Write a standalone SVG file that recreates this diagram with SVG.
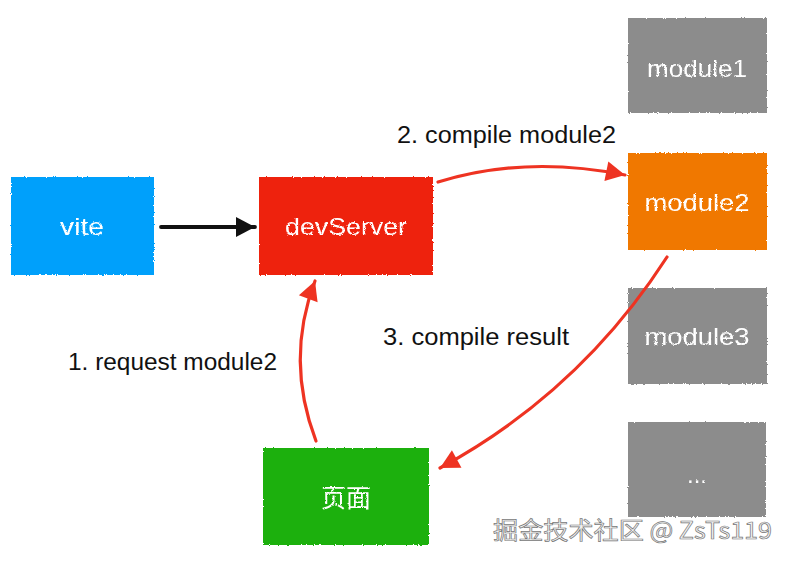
<svg xmlns="http://www.w3.org/2000/svg" width="791" height="563" viewBox="0 0 791 563">
<defs>
<style>
.nt{font-family:"Liberation Sans","Noto Sans CJK SC",sans-serif;font-size:24px;fill:#ffffff;text-anchor:middle}
.lbl{font-family:"Liberation Sans",sans-serif;font-size:23.5px;fill:#111111}
.red{fill:none;stroke:#ee3322;stroke-width:3.2;stroke-linecap:round}
.blk{fill:none;stroke:#111111;stroke-width:3.8;stroke-linecap:round}
</style>
<filter id="rough" x="-5%" y="-5%" width="110%" height="110%">
<feTurbulence type="fractalNoise" baseFrequency="0.9" numOctaves="2" seed="3" result="n"/>
<feDisplacementMap in="SourceGraphic" in2="n" scale="2.5" xChannelSelector="R" yChannelSelector="G"/>
</filter>
<marker id="ahR" markerUnits="userSpaceOnUse" markerWidth="24" markerHeight="24" viewBox="0 0 24 24" refX="21" refY="12" orient="auto">
<path d="M2,2 L21,12 L2,22 Z" fill="#ee3322"/>
</marker>
<marker id="ahB" markerUnits="userSpaceOnUse" markerWidth="24" markerHeight="24" viewBox="0 0 24 24" refX="21" refY="12" orient="auto">
<path d="M2,2 L21,12 L2,22 Z" fill="#111111"/>
</marker>
</defs>
<rect width="791" height="563" fill="#ffffff"/>

<g id="vite" filter="url(#rough)">
<rect x="11" y="177" width="143" height="98" fill="#04a0fb"/>
<text class="nt" x="82" y="235" textLength="44" lengthAdjust="spacingAndGlyphs">vite</text>
</g>
<g id="devServer" filter="url(#rough)">
<rect x="259" y="177" width="174" height="98" fill="#ee2210"/>
<text class="nt" x="346" y="235" textLength="122" lengthAdjust="spacingAndGlyphs">devServer</text>
</g>
<g id="module1" filter="url(#rough)">
<rect x="628" y="18" width="139" height="95" fill="#8c8c8c"/>
<text class="nt" x="697" y="77" textLength="100" lengthAdjust="spacingAndGlyphs">module1</text>
</g>
<g id="module2" filter="url(#rough)">
<rect x="628" y="153" width="139" height="97" fill="#f07800"/>
<text class="nt" x="697" y="211" textLength="105" lengthAdjust="spacingAndGlyphs">module2</text>
</g>
<g id="module3" filter="url(#rough)">
<rect x="628" y="288" width="139" height="96" fill="#8c8c8c"/>
<text class="nt" x="697" y="345" textLength="105" lengthAdjust="spacingAndGlyphs">module3</text>
</g>
<g id="moduleN" filter="url(#rough)">
<rect x="628" y="422" width="138" height="95" fill="#8c8c8c"/>
<text class="nt" x="697" y="483">...</text>
</g>
<g id="page" filter="url(#rough)">
<rect x="263" y="448" width="166" height="97" fill="#1db00b"/>
<text class="nt" x="346" y="507" style="font-size:25px">页面</text>
</g>

<g id="connectors">
<path class="blk" d="M161,227 L255,227" marker-end="url(#ahB)"/>
<path class="red" d="M438,182 Q525,155 625,175" marker-end="url(#ahR)"/>
<path class="red" d="M667,257 Q580,392 440,468" marker-end="url(#ahR)"/>
<path class="red" d="M316,441 Q285,360 315,281" marker-end="url(#ahR)"/>
</g>

<g id="labels">
<text class="lbl" x="397" y="143" textLength="219" lengthAdjust="spacingAndGlyphs">2. compile module2</text>
<text class="lbl" x="383" y="345" textLength="186" lengthAdjust="spacingAndGlyphs">3. compile result</text>
<text class="lbl" x="68" y="370" textLength="209" lengthAdjust="spacingAndGlyphs">1. request module2</text>
</g>

<text x="493" y="539" textLength="279" lengthAdjust="spacingAndGlyphs" style="font-family:'Noto Sans CJK SC',sans-serif;font-size:24px;fill:#f2f2f2;stroke:#777777;stroke-width:0.7">掘金技术社区 @ ZsTs119</text>
</svg>
